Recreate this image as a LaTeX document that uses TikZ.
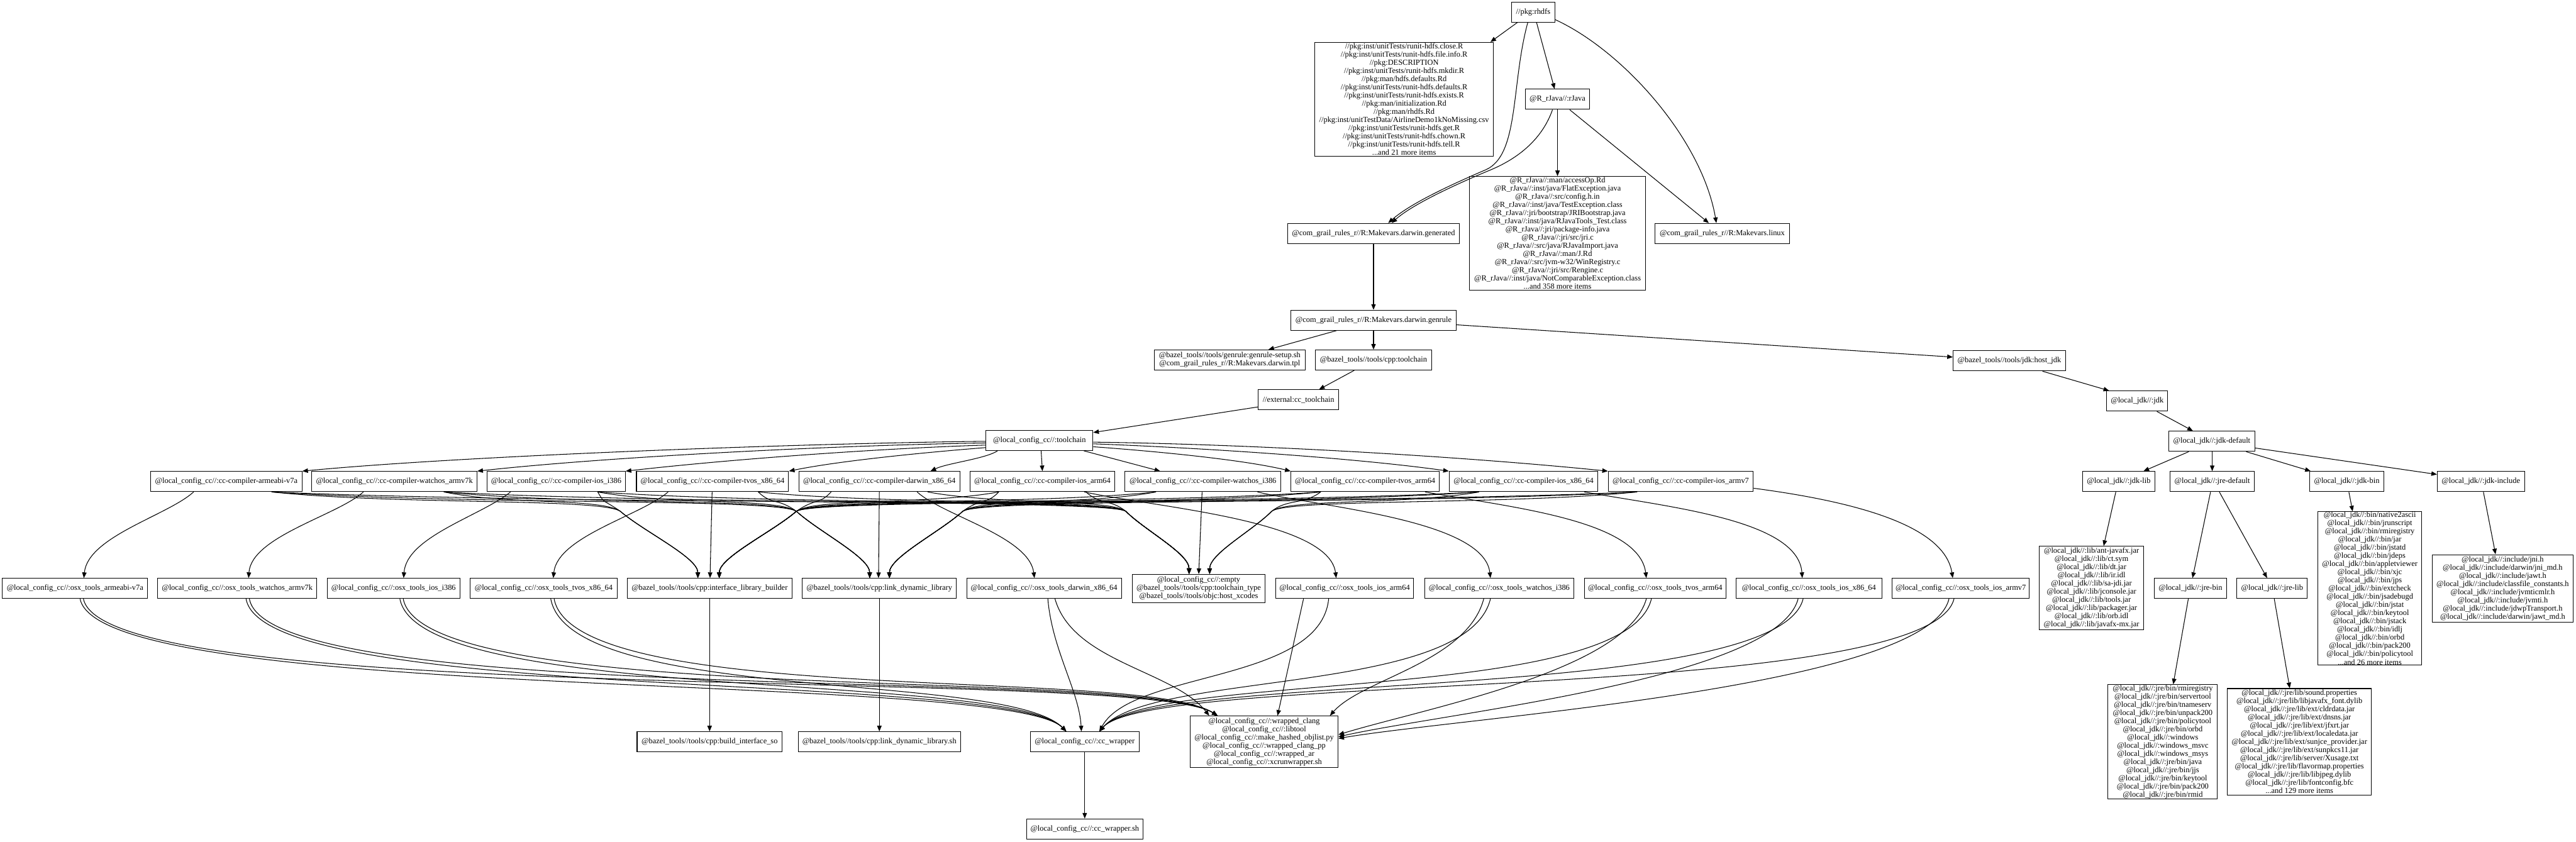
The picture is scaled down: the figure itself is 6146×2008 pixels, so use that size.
\documentclass[tikz,border=0pt]{standalone}
\usepackage{fontspec}
\setmainfont{Liberation Serif}
\usetikzlibrary{arrows.meta}
\newcommand\lcc{@local\_config\_cc//:}
\newcommand\ljdk{@local\_jdk//:}
\newcommand\rjv{@R\_rJava//:}
\newcommand\bundleedge[6]{%
  \pgfmathsetmacro\bdd{#3-#2}%
  \pgfmathsetmacro\bvx{#5-#3}%
  \pgfmathsetmacro\bvy{#6-1220}%
  \draw[edge] (#1.south -| #2,0) .. controls ({#2+0.35*\bdd},1205) and ({#3-0.25*\bvx},{1220-0.2*\bvy}) .. (#3,1220) .. controls ({#3+0.3*\bvx},{1220+0.3*\bvy}) and (#5,{#6-50}) .. (#4.north -| #5,0);}
\begin{document}
\begin{tikzpicture}[x=0.01cm,y=-0.01cm,
  box/.style={draw,line width=0.45pt,inner sep=0pt,align=center,font=\fontsize{5.3}{5.55}\selectfont},
  wh/.style 2 args={minimum width={#1*0.01cm},minimum height={#2*0.01cm}},
  edge/.style={line width=0.45pt,-{Triangle[length=3.8pt,width=3pt]}}]
\fill[white] (0,0) rectangle (6146,2008);
\useasboundingbox (0,0) rectangle (6146,2008);

% ---------- top part
\node[box,wh={104}{48}] (pkg) at (3658,29) {//pkg:rhdfs};
\node[box,wh={427}{272}] (pkgl) at (3350,237) {//pkg:inst/unitTests/runit-hdfs.close.R\\//pkg:inst/unitTests/runit-hdfs.file.info.R\\//pkg:DESCRIPTION\\//pkg:inst/unitTests/runit-hdfs.mkdir.R\\//pkg:man/hdfs.defaults.Rd\\//pkg:inst/unitTests/runit-hdfs.defaults.R\\//pkg:inst/unitTests/runit-hdfs.exists.R\\//pkg:man/initialization.Rd\\//pkg:man/rhdfs.Rd\\//pkg:inst/unitTestData/AirlineDemo1kNoMissing.csv\\//pkg:inst/unitTests/runit-hdfs.get.R\\//pkg:inst/unitTests/runit-hdfs.chown.R\\//pkg:inst/unitTests/runit-hdfs.tell.R\\...and 21 more items};
\node[box,wh={154}{48}] (rj) at (3716,237) {\rjv rJava};
\node[box,wh={420}{272}] (rjl) at (3716,557) {\rjv man/accessOp.Rd\\\rjv inst/java/FlatException.java\\\rjv src/config.h.in\\\rjv inst/java/TestException.class\\\rjv jri/bootstrap/JRIBootstrap.java\\\rjv inst/java/RJavaTools\_Test.class\\\rjv jri/package-info.java\\\rjv jri/src/jri.c\\\rjv src/java/RJavaImport.java\\\rjv man/J.Rd\\\rjv src/jvm-w32/WinRegistry.c\\\rjv jri/src/Rengine.c\\\rjv inst/java/NotComparableException.class\\...and 358 more items};
\node[box,wh={411}{48}] (gen) at (3277,557) {@com\_grail\_rules\_r//R:Makevars.darwin.generated};
\node[box,wh={320}{48}] (lin) at (4109,557) {@com\_grail\_rules\_r//R:Makevars.linux};
\node[box,wh={394}{48}] (gr) at (3277,764) {@com\_grail\_rules\_r//R:Makevars.darwin.genrule};
\node[box,wh={360}{48}] (setup) at (2934,859) {@bazel\_tools//tools/genrule:genrule-setup.sh\\@com\_grail\_rules\_r//R:Makevars.darwin.tpl};
\node[box,wh={277}{48}] (cpp) at (3277,859) {@bazel\_tools//tools/cpp:toolchain};
\node[box,wh={192}{48}] (ext) at (3098,954) {//external:cc\_toolchain};
\node[box,wh={268}{48}] (hj) at (4794,861) {@bazel\_tools//tools/jdk:host\_jdk};

% ---------- jdk
\node[box,wh={146}{48}] (jdk) at (5099,957) {\ljdk jdk};
\node[box,wh={205}{48}] (jdef) at (5277,1053) {\ljdk jdk-default};
\node[box,wh={172}{48}] (jlib) at (5055,1149) {\ljdk jdk-lib};
\node[box,wh={200}{48}] (jre) at (5278,1149) {\ljdk jre-default};
\node[box,wh={177}{48}] (jbin) at (5599,1149) {\ljdk jdk-bin};
\node[box,wh={208}{48}] (jinc) at (5919,1149) {\ljdk jdk-include};
\node[box,wh={249}{199}] (jlibl) at (4990,1403) {\ljdk lib/ant-javafx.jar\\\ljdk lib/ct.sym\\\ljdk lib/dt.jar\\\ljdk lib/ir.idl\\\ljdk lib/sa-jdi.jar\\\ljdk lib/jconsole.jar\\\ljdk lib/tools.jar\\\ljdk lib/packager.jar\\\ljdk lib/orb.idl\\\ljdk lib/javafx-mx.jar};
\node[box,wh={172}{48}] (jrebin) at (5226,1404) {\ljdk jre-bin};
\node[box,wh={168}{48}] (jrelib) at (5421,1404) {\ljdk jre-lib};
\node[box,wh={248}{366}] (jbinl) at (5654,1404) {\ljdk bin/native2ascii\\\ljdk bin/jrunscript\\\ljdk bin/rmiregistry\\\ljdk bin/jar\\\ljdk bin/jstatd\\\ljdk bin/jdeps\\\ljdk bin/appletviewer\\\ljdk bin/xjc\\\ljdk bin/jps\\\ljdk bin/extcheck\\\ljdk bin/jsadebugd\\\ljdk bin/jstat\\\ljdk bin/keytool\\\ljdk bin/jstack\\\ljdk bin/idlj\\\ljdk bin/orbd\\\ljdk bin/pack200\\\ljdk bin/policytool\\...and 26 more items};
\node[box,wh={336}{161}] (jincl) at (5971,1404) {\ljdk include/jni.h\\\ljdk include/darwin/jni\_md.h\\\ljdk include/jawt.h\\\ljdk include/classfile\_constants.h\\\ljdk include/jvmticmlr.h\\\ljdk include/jvmti.h\\\ljdk include/jdwpTransport.h\\\ljdk include/darwin/jawt\_md.h};
\node[box,wh={261}{273}] (jrebinl) at (5160,1770) {\ljdk jre/bin/rmiregistry\\\ljdk jre/bin/servertool\\\ljdk jre/bin/tnameserv\\\ljdk jre/bin/unpack200\\\ljdk jre/bin/policytool\\\ljdk jre/bin/orbd\\\ljdk windows\\\ljdk windows\_msvc\\\ljdk windows\_msys\\\ljdk jre/bin/java\\\ljdk jre/bin/jjs\\\ljdk jre/bin/keytool\\\ljdk jre/bin/pack200\\\ljdk jre/bin/rmid};
\node[box,wh={344}{254}] (jrelibl) at (5486,1770) {\ljdk jre/lib/sound.properties\\\ljdk jre/lib/libjavafx\_font.dylib\\\ljdk jre/lib/ext/cldrdata.jar\\\ljdk jre/lib/ext/dnsns.jar\\\ljdk jre/lib/ext/jfxrt.jar\\\ljdk jre/lib/ext/localedata.jar\\\ljdk jre/lib/ext/sunjce\_provider.jar\\\ljdk jre/lib/ext/sunpkcs11.jar\\\ljdk jre/lib/server/Xusage.txt\\\ljdk jre/lib/flavormap.properties\\\ljdk jre/lib/libjpeg.dylib\\\ljdk jre/lib/fontconfig.bfc\\...and 129 more items};

% ---------- cc toolchain
\node[box,wh={255}{48}] (tc) at (2480,1051) {\lcc toolchain};
\node[box,wh={361}{48}] (c1) at (540,1149) {\lcc cc-compiler-armeabi-v7a};
\node[box,wh={394}{48}] (c2) at (941,1149) {\lcc cc-compiler-watchos\_armv7k};
\node[box,wh={330}{48}] (c3) at (1327,1149) {\lcc cc-compiler-ios\_i386};
\node[box,wh={363}{48}] (c4) at (1700,1149) {\lcc cc-compiler-tvos\_x86\_64};
\node[box,wh={384}{48}] (c5) at (2098,1149) {\lcc cc-compiler-darwin\_x86\_64};
\node[box,wh={346}{48}] (c6) at (2487,1149) {\lcc cc-compiler-ios\_arm64};
\node[box,wh={372}{48}] (c7) at (2870,1149) {\lcc cc-compiler-watchos\_i386};
\node[box,wh={354}{48}] (c8) at (3257,1149) {\lcc cc-compiler-tvos\_arm64};
\node[box,wh={355}{48}] (c9) at (3635,1149) {\lcc cc-compiler-ios\_x86\_64};
\node[box,wh={346}{48}] (c10) at (4010,1149) {\lcc cc-compiler-ios\_armv7};

\node[box,wh={347}{48}] (o1) at (179,1404) {\lcc osx\_tools\_armeabi-v7a};
\node[box,wh={379}{48}] (o2) at (566,1404) {\lcc osx\_tools\_watchos\_armv7k};
\node[box,wh={316}{48}] (o3) at (939,1404) {\lcc osx\_tools\_ios\_i386};
\node[box,wh={350}{48}] (o4) at (1297,1404) {\lcc osx\_tools\_tvos\_x86\_64};
\node[box,wh={393}{48}] (ilb) at (1693,1404) {@bazel\_tools//tools/cpp:interface\_library\_builder};
\node[box,wh={368}{48}] (ldl) at (2098,1404) {@bazel\_tools//tools/cpp:link\_dynamic\_library};
\node[box,wh={369}{48}] (o5) at (2491,1404) {\lcc osx\_tools\_darwin\_x86\_64};
\node[box,wh={317}{67}] (emp) at (2860,1404) {\lcc empty\\@bazel\_tools//tools/cpp:toolchain\_type\\@bazel\_tools//tools/objc:host\_xcodes};
\node[box,wh={329}{48}] (o6) at (3208,1404) {\lcc osx\_tools\_ios\_arm64};
\node[box,wh={355}{48}] (o7) at (3577,1404) {\lcc osx\_tools\_watchos\_i386};
\node[box,wh={338}{48}] (o8) at (3949,1404) {\lcc osx\_tools\_tvos\_arm64};
\node[box,wh={348}{48}] (o9) at (4316,1404) {\lcc osx\_tools\_ios\_x86\_64};
\node[box,wh={327}{48}] (o10) at (4678,1404) {\lcc osx\_tools\_ios\_armv7};

\node[box,wh={346}{48}] (bis) at (1693,1770) {@bazel\_tools//tools/cpp:build\_interface\_so};
\node[box,wh={387}{48}] (ldls) at (2098,1770) {@bazel\_tools//tools/cpp:link\_dynamic\_library.sh};
\node[box,wh={259}{48}] (ccw) at (2588,1770) {\lcc cc\_wrapper};
\node[box,wh={353}{123}] (wr) at (3016,1770) {\lcc wrapped\_clang\\\lcc libtool\\\lcc make\_hashed\_objlist.py\\\lcc wrapped\_clang\_pp\\\lcc wrapped\_ar\\\lcc xcrunwrapper.sh};
\node[box,wh={278}{48}] (ccws) at (2588,1978) {\lcc cc\_wrapper.sh};

% ---------- edges top
\draw[edge] (pkg.south -| 3620,0) -- (pkgl.north -| 3556,0);
\draw[edge] (pkg.south -| 3666,0) -- (rj.north -| 3709,0);
\draw[edge] (pkg.south -| 3645,0) .. controls (3605,200) and (3625,370) .. (3545,405) .. controls (3440,450) and (3360,490) .. (gen.north -| 3312,0);
\draw[edge] (rj.south -| 3704,0) .. controls (3680,330) and (3625,378) .. (3550,408) .. controls (3450,450) and (3365,492) .. (gen.north -| 3320,0);
\draw[edge] (rj.south) -- (rjl.north);
\draw[edge] (rj.south -| 3745,0) -- (lin.north -| 4077,0);
\draw[edge] (pkg.east |- 0,47) .. controls (3870,120) and (4060,330) .. (lin.north -| 4095,0);
\draw[edge] (gen.south) -- (gr.north);
\draw[edge] (gr.south -| 3189,0) -- (setup.north -| 3026,0);
\draw[edge] (gr.south) -- (cpp.north);
\draw[edge] (gr.east |- 0,775) -- (hj.west |- 0,852);
\draw[edge] (cpp.south -| 3231,0) -- (ext.north -| 3147,0);
\draw[edge] (ext.west |- 0,971) -- (tc.east |- 0,1032);

% ---------- jdk edges
\draw[edge] (hj.south -| 4873,0) -- (jdk.north -| 5032,0);
\draw[edge] (jdk.south -| 5146,0) -- (jdef.north -| 5232,0);
\draw[edge] (jdef.south -| 5222,0) -- (jlib.north -| 5114,0);
\draw[edge] (jdef.south -| 5278,0) -- (jre.north -| 5278,0);
\draw[edge] (jdef.south -| 5359,0) -- (jbin.north -| 5513,0);
\draw[edge] (jdef.east |- 0,1069) -- (jinc.west |- 0,1132);
\draw[edge] (jlib.south -| 5048,0) -- (jlibl.north -| 5019,0);
\draw[edge] (jre.south -| 5274,0) -- (jrebin.north -| 5231,0);
\draw[edge] (jre.south -| 5295,0) -- (jrelib.north -| 5409,0);
\draw[edge] (jbin.south -| 5604,0) -- (jbinl.north -| 5613,0);
\draw[edge] (jinc.south -| 5925,0) -- (jincl.north -| 5954,0);
\draw[edge] (jrebin.south -| 5221,0) -- (jrebinl.north -| 5185,0);
\draw[edge] (jrelib.south -| 5426,0) -- (jrelibl.north -| 5463,0);

% ---------- toolchain -> compilers
\draw[edge] (tc.west |- 0,1053) .. controls (1900,1058) and (1100,1088) .. (c1.north east);
\draw[edge] (tc.west |- 0,1057) .. controls (2000,1062) and (1450,1090) .. (c2.north east);
\draw[edge] (tc.west |- 0,1062) .. controls (2100,1070) and (1750,1095) .. (c3.north east);
\draw[edge] (tc.west |- 0,1068) .. controls (2200,1080) and (2000,1100) .. (c4.north east);
\draw[edge] (tc.south -| 2380,0) .. controls (2350,1095) and (2260,1105) .. (c5.north -| 2220,0);
\draw[edge] (tc.south -| 2484,0) -- (c6.north -| 2487,0);
\draw[edge] (tc.south -| 2586,0) -- (c7.north -| 2768,0);
\draw[edge] (tc.east |- 0,1066) .. controls (2800,1080) and (2980,1100) .. (c8.north west);
\draw[edge] (tc.east |- 0,1059) .. controls (2900,1070) and (3250,1095) .. (c9.north west);
\draw[edge] (tc.east |- 0,1055) .. controls (3000,1060) and (3500,1090) .. (c10.north west);

% ---------- compilers -> osx tools
\draw[edge] (c1.south -| 462,0) .. controls (400,1230) and (210,1280) .. (o1.north -| 200,0);
\draw[edge] (c2.south -| 867,0) .. controls (805,1230) and (600,1280) .. (o2.north -| 593,0);
\draw[edge] (c3.south -| 1218,0) .. controls (1150,1230) and (970,1280) .. (o3.north -| 963,0);
\draw[edge] (c4.south -| 1594,0) .. controls (1530,1230) and (1330,1280) .. (o4.north -| 1320,0);
\draw[edge] (c5.south -| 2188,0) .. controls (2250,1230) and (2455,1280) .. (o5.north -| 2468,0);
\draw[edge] (c6.south -| 2587,0) .. controls (2750,1210) and (3170,1240) .. (o6.north -| 3188,0);
\draw[edge] (c7.south -| 3000,0) .. controls (3150,1210) and (3540,1240) .. (o7.north -| 3556,0);
\draw[edge] (c8.south -| 3400,0) .. controls (3600,1210) and (3910,1240) .. (o8.north -| 3928,0);
\draw[edge] (c9.south -| 3780,0) .. controls (3980,1210) and (4290,1240) .. (o9.north -| 4300,0);
\draw[edge] (c10.east |- 0,1165) .. controls (4450,1200) and (4640,1260) .. (o10.north -| 4659,0);

% ---------- compilers -> interface_library_builder
\bundleedge{c1}{648}{1480}{ilb}{1665}{1380}
\bundleedge{c2}{1059}{1480}{ilb}{1665}{1380}
\bundleedge{c3}{1426}{1480}{ilb}{1665}{1380}
\draw[edge] (c4.south -| 1699,0) -- (ilb.north -| 1694,0);
\bundleedge{c5}{1983}{1900}{ilb}{1716}{1380}
\bundleedge{c6}{2383}{1900}{ilb}{1716}{1380}
\bundleedge{c7}{2758}{1900}{ilb}{1716}{1380}
\bundleedge{c8}{3151}{1900}{ilb}{1716}{1380}
\bundleedge{c9}{3529}{1900}{ilb}{1716}{1380}
\bundleedge{c10}{3906}{1900}{ilb}{1716}{1380}
% ---------- compilers -> link_dynamic_library
\bundleedge{c1}{648}{1900}{ldl}{2075}{1380}
\bundleedge{c2}{1059}{1900}{ldl}{2075}{1380}
\bundleedge{c3}{1426}{1900}{ldl}{2075}{1380}
\bundleedge{c4}{1809}{1900}{ldl}{2075}{1380}
\draw[edge] (c5.south -| 2098,0) -- (ldl.north -| 2096,0);
\bundleedge{c6}{2383}{2297}{ldl}{2122}{1380}
\bundleedge{c7}{2758}{2297}{ldl}{2122}{1380}
\bundleedge{c8}{3151}{2297}{ldl}{2122}{1380}
\bundleedge{c9}{3529}{2297}{ldl}{2122}{1380}
\bundleedge{c10}{3906}{2297}{ldl}{2122}{1380}
% ---------- compilers -> empty
\bundleedge{c1}{648}{2686}{emp}{2837}{1371}
\bundleedge{c2}{1059}{2686}{emp}{2837}{1371}
\bundleedge{c3}{1426}{2686}{emp}{2837}{1371}
\bundleedge{c4}{1809}{2686}{emp}{2837}{1371}
\bundleedge{c5}{2213}{2686}{emp}{2837}{1371}
\bundleedge{c6}{2591}{2686}{emp}{2837}{1371}
\draw[edge] (c7.south -| 2868,0) -- (emp.north -| 2860,0);
\bundleedge{c8}{3151}{3034}{emp}{2886}{1371}
\bundleedge{c9}{3529}{3034}{emp}{2886}{1371}
\bundleedge{c10}{3906}{3034}{emp}{2886}{1371}

% ---------- osx tools -> cc_wrapper / wrapped
\draw[edge] (o1.south -| 191,0) .. controls (240,1680) and (2400,1600) .. (ccw.north -| 2544,0);
\draw[edge] (o1.south -| 199,0) .. controls (250,1690) and (2720,1590) .. (wr.north -| 2905,0);
\draw[edge] (o2.south -| 587,0) .. controls (630,1680) and (2400,1600) .. (ccw.north -| 2544,0);
\draw[edge] (o2.south -| 595,0) .. controls (640,1690) and (2720,1590) .. (wr.north -| 2905,0);
\draw[edge] (o3.south -| 954,0) .. controls (1000,1680) and (2400,1600) .. (ccw.north -| 2544,0);
\draw[edge] (o3.south -| 962,0) .. controls (1010,1690) and (2720,1590) .. (wr.north -| 2905,0);
\draw[edge] (o4.south -| 1314,0) .. controls (1360,1680) and (2400,1600) .. (ccw.north -| 2544,0);
\draw[edge] (o4.south -| 1322,0) .. controls (1370,1690) and (2720,1590) .. (wr.north -| 2905,0);
\draw[edge] (o5.south -| 2500,0) .. controls (2510,1550) and (2575,1650) .. (ccw.north -| 2580,0);
\draw[edge] (o5.south -| 2517,0) .. controls (2560,1580) and (2800,1600) .. (wr.north -| 2885,0);
\draw[edge] (o6.south -| 3110,0) -- (wr.north -| 3048,0);
\draw[edge] (o6.south -| 3170,0) .. controls (3150,1630) and (2700,1600) .. (ccw.north -| 2623,0);
\draw[edge] (o7.south -| 3540,0) .. controls (3500,1580) and (3250,1620) .. (wr.north -| 3173,0);
\draw[edge] (o7.south -| 3556,0) .. controls (3500,1660) and (2750,1600) .. (ccw.north -| 2623,0);
\draw[edge] (o8.south -| 3928,0) .. controls (3880,1600) and (3400,1690) .. (wr.east |- 0,1753);
\draw[edge] (o8.south -| 3940,0) .. controls (3880,1680) and (2750,1600) .. (ccw.north -| 2623,0);
\draw[edge] (o9.south -| 4290,0) .. controls (4240,1620) and (3450,1700) .. (wr.east |- 0,1758);
\draw[edge] (o9.south -| 4302,0) .. controls (4240,1680) and (2750,1600) .. (ccw.north -| 2623,0);
\draw[edge] (o10.south -| 4650,0) .. controls (4600,1640) and (3500,1710) .. (wr.east |- 0,1762);
\draw[edge] (o10.south -| 4662,0) .. controls (4600,1680) and (2750,1600) .. (ccw.north -| 2623,0);

% ---------- bottom singles
\draw[edge] (ilb.south) -- (bis.north);
\draw[edge] (ldl.south) -- (ldls.north);
\draw[edge] (ccw.south) -- (ccws.north);
\end{tikzpicture}
\end{document}
